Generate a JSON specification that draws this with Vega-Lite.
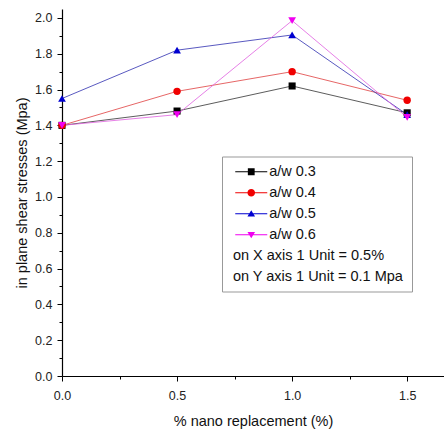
{
  "$schema": "https://vega.github.io/schema/vega-lite/v6.json",
  "width": 382,
  "height": 367,
  "autosize": "none",
  "padding": {"left": 62, "top": 9, "right": 0, "bottom": 56},
  "background": "white",
  "config": {"view": {"stroke": null}, "font": "Liberation Sans"},
  "data": {
    "values": [
      {"series": "a/w 0.3", "x": 0.0, "y": 1.40},
      {"series": "a/w 0.3", "x": 0.5, "y": 1.48},
      {"series": "a/w 0.3", "x": 1.0, "y": 1.62},
      {"series": "a/w 0.3", "x": 1.5, "y": 1.47},
      {"series": "a/w 0.4", "x": 0.0, "y": 1.40},
      {"series": "a/w 0.4", "x": 0.5, "y": 1.59},
      {"series": "a/w 0.4", "x": 1.0, "y": 1.70},
      {"series": "a/w 0.4", "x": 1.5, "y": 1.54},
      {"series": "a/w 0.5", "x": 0.0, "y": 1.55},
      {"series": "a/w 0.5", "x": 0.5, "y": 1.82},
      {"series": "a/w 0.5", "x": 1.0, "y": 1.905},
      {"series": "a/w 0.5", "x": 1.5, "y": 1.46},
      {"series": "a/w 0.6", "x": 0.0, "y": 1.40},
      {"series": "a/w 0.6", "x": 0.5, "y": 1.46},
      {"series": "a/w 0.6", "x": 1.0, "y": 1.985},
      {"series": "a/w 0.6", "x": 1.5, "y": 1.445}
    ]
  },
  "encoding": {
    "x": {
      "field": "x",
      "type": "quantitative",
      "scale": {"domain": [0, 1.66], "nice": false, "zero": false},
      "axis": {
        "title": "% nano replacement (%)",
        "values": [0, 0.25, 0.5, 0.75, 1, 1.25, 1.5],
        "labelExpr": "round(datum.value*4) % 2 == 0 ? format(datum.value, '.1f') : ''",
        "grid": false,
        "domainColor": "#000",
        "domainWidth": 1.2,
        "tickColor": "#000",
        "tickSize": {"condition": {"test": "round(datum.value*4) % 2 == 0", "value": 5}, "value": 3},
        "labelPadding": 8,
        "labelFontSize": 12.5,
        "labelColor": "#222",
        "labelOverlap": false,
        "labelFlush": false,
        "titleFontSize": 14.5,
        "titleFontWeight": "normal",
        "titleColor": "#111",
        "titlePadding": 13
      }
    },
    "y": {
      "field": "y",
      "type": "quantitative",
      "scale": {"domain": [0, 2.05], "nice": false},
      "axis": {
        "title": "in plane shear stresses (Mpa)",
        "values": [0, 0.1, 0.2, 0.3, 0.4, 0.5, 0.6, 0.7, 0.8, 0.9, 1.0, 1.1, 1.2, 1.3, 1.4, 1.5, 1.6, 1.7, 1.8, 1.9, 2.0],
        "labelExpr": "round(datum.value*10) % 2 == 0 ? format(datum.value, '.1f') : ''",
        "grid": false,
        "domainColor": "#000",
        "domainWidth": 1.2,
        "tickColor": "#000",
        "tickSize": {"condition": {"test": "round(datum.value*10) % 2 == 0", "value": 5}, "value": 3},
        "labelPadding": 5,
        "labelFontSize": 12.5,
        "labelColor": "#222",
        "labelOverlap": false,
        "labelFlush": false,
        "titleFontSize": 14.5,
        "titleFontWeight": "normal",
        "titleColor": "#111",
        "titlePadding": 5
      }
    }
  },
  "layer": [
    {
      "mark": {"type": "line", "strokeWidth": 1, "opacity": 0.8},
      "encoding": {
        "stroke": {
          "field": "series",
          "type": "nominal",
          "scale": {"domain": ["a/w 0.3", "a/w 0.4", "a/w 0.5", "a/w 0.6"], "range": ["#333333", "#e04040", "#3030b0", "#e060e0"]},
          "legend": null
        }
      }
    },
    {
      "transform": [{"filter": "datum.series == 'a/w 0.3'"}],
      "mark": {"type": "point", "filled": true, "size": 50, "opacity": 1, "strokeWidth": 0, "shape": "square", "color": "#000000"}
    },
    {
      "transform": [{"filter": "datum.series == 'a/w 0.4'"}],
      "mark": {"type": "point", "filled": true, "size": 55, "opacity": 1, "strokeWidth": 0, "shape": "circle", "color": "#f00000"}
    },
    {
      "transform": [{"filter": "datum.series == 'a/w 0.5'"}],
      "mark": {"type": "point", "filled": true, "size": 60, "opacity": 1, "strokeWidth": 0, "shape": "triangle-up", "color": "#0000d0"}
    },
    {
      "transform": [{"filter": "datum.series == 'a/w 0.6'"}],
      "mark": {"type": "point", "filled": true, "size": 60, "opacity": 1, "strokeWidth": 0, "shape": "triangle-down", "color": "#f000f0"}
    },
    {
      "mark": {"type": "point", "filled": true, "size": 64, "opacity": 0, "strokeWidth": 0},
      "encoding": {
        "color": {
          "field": "series",
          "type": "nominal",
          "scale": {
            "domain": ["a/w 0.3", "a/w 0.4", "a/w 0.5", "a/w 0.6", "on X axis 1 Unit = 0.5%", "on Y axis 1 Unit = 0.1 Mpa"],
            "range": ["#000000", "#f00000", "#0000d0", "#f000f0", "transparent", "transparent"]
          },
          "legend": {
            "orient": "none",
            "legendX": 160,
            "legendY": 147.5,
            "title": null,
            "padding": 8,
            "rowPadding": 6,
            "symbolSize": 64,
            "symbolOffset": 14,
            "labelOffset": -25.6,
            "labelFontSize": 14.5,
            "labelColor": "#111",
            "labelLimit": 300,
            "labelExpr": "substring(datum.value, 0, 3) == 'a/w' ? '\u200b\u00a0\u00a0\u00a0\u00a0\u00a0\u00a0\u00a0\u00a0\u00a0' + datum.value : datum.value",
            "strokeColor": "#999",
            "fillColor": "white",
            "symbolStrokeWidth": 0,
            "symbolOpacity": 1
          }
        },
        "shape": {
          "field": "series",
          "type": "nominal",
          "scale": {
            "domain": ["a/w 0.3", "a/w 0.4", "a/w 0.5", "a/w 0.6", "on X axis 1 Unit = 0.5%", "on Y axis 1 Unit = 0.1 Mpa"],
            "range": [
              "M-4,-0.12H4V0.12H-4Z M-0.85,-0.85H0.85V0.85H-0.85Z",
              "M-4,-0.12H4V0.12H-4Z M-0.95,0A0.95,0.95 0 1 1 0.95,0A0.95,0.95 0 1 1 -0.95,0Z",
              "M-4,-0.12H4V0.12H-4Z M0,-0.9L0.95,0.7L-0.95,0.7Z",
              "M-4,-0.12H4V0.12H-4Z M0,0.9L-0.95,-0.7L0.95,-0.7Z",
              "circle",
              "circle"
            ]
          },
          "legend": {
            "orient": "none",
            "legendX": 160,
            "legendY": 147.5,
            "title": null,
            "padding": 8,
            "rowPadding": 6,
            "symbolSize": 64,
            "symbolOffset": 14,
            "labelOffset": -25.6,
            "labelFontSize": 14.5,
            "labelColor": "#111",
            "labelLimit": 300,
            "labelExpr": "substring(datum.value, 0, 3) == 'a/w' ? '\u200b\u00a0\u00a0\u00a0\u00a0\u00a0\u00a0\u00a0\u00a0\u00a0' + datum.value : datum.value",
            "strokeColor": "#999",
            "fillColor": "white",
            "symbolStrokeWidth": 0,
            "symbolOpacity": 1
          }
        }
      }
    }
  ]
}
